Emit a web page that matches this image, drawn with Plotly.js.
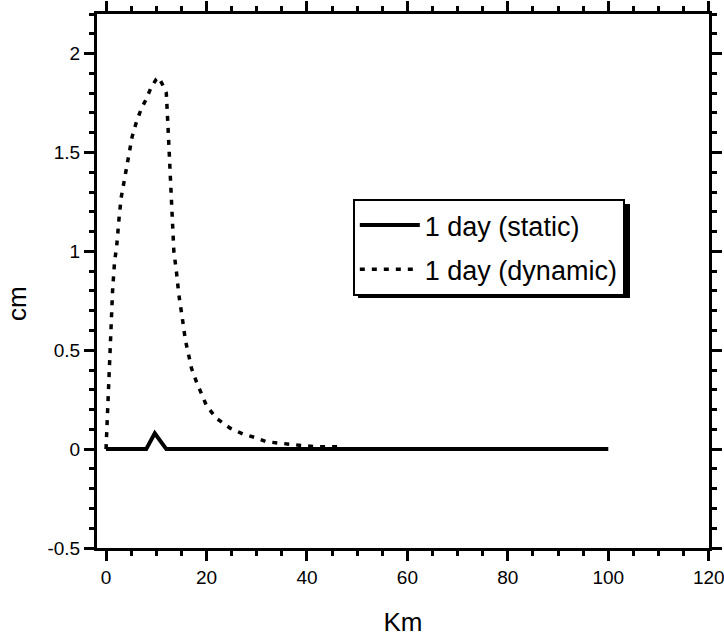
<!DOCTYPE html>
<html>
<head>
<meta charset="utf-8">
<script src="https://cdn.plot.ly/plotly-3.0.1.min.js"></script>
<style>html,body{margin:0;padding:0;background:#fff;}#chart{width:724px;height:639px;}</style>
</head>
<body>
<div id="chart"></div>
<script>
// Static deformation after 1 day (cm) vs distance (km)
const staticX = [0, 8.0, 9.7, 12.0, 100];
const staticY = [0, 0, 0.08, 0, 0];

// Dynamic deformation after 1 day
const dynamicX = [0, 0.3, 0.6, 1.0, 1.3, 1.7, 2.1, 2.6, 3.0, 3.5, 4.0, 4.5, 5.2, 6.0, 7.0, 8.0, 9.0, 10.0, 10.5, 11.5, 12.0, 12.3, 12.7, 13.1, 13.5, 14.0, 14.5, 15.2, 15.8, 16.5, 17.0, 18.0, 19.0, 20.0, 22.0, 24.7, 27.3, 29.5, 32.0, 34.5, 37.0, 39.5, 42.0, 44.5, 47.0];
const dynamicY = [0, 0.2, 0.4, 0.6, 0.8, 0.95, 1.02, 1.17, 1.27, 1.34, 1.41, 1.50, 1.58, 1.65, 1.72, 1.77, 1.83, 1.87, 1.88, 1.83, 1.80, 1.65, 1.41, 1.16, 1.0, 0.9, 0.78, 0.66, 0.55, 0.47, 0.41, 0.34, 0.28, 0.22, 0.155, 0.106, 0.076, 0.06, 0.037, 0.029, 0.024, 0.017, 0.012, 0.012, 0.012];

const seriesNames = ["1 day (static)", "1 day (dynamic)"];
const xTickVals = [0, 20, 40, 60, 80, 100, 120];
const yTickVals = [-0.5, 0, 0.5, 1, 1.5, 2];
const yTickText = ["-0.5", "0", "0.5", "1", "1.5", "2"];

const FONT = "Liberation Sans, Arial, Helvetica, sans-serif";

const traces = [
  {x: staticX, y: staticY, mode: "lines", name: seriesNames[0], legendgroup: "a",
   line: {color: "#000", width: 4}},
  {x: dynamicX, y: dynamicY, mode: "lines", name: seriesNames[1], legendgroup: "b",
   line: {color: "#000", width: 3.5, dash: "5px,7px"}}
];

const axisCommon = {
  showgrid: false, zeroline: false, showline: true, linecolor: "#000", linewidth: 3,
  mirror: "allticks", ticks: "outside", ticklen: 10, tickwidth: 3, tickcolor: "#000",
  ticklabeloverflow: "allow",
  tickfont: {family: FONT, size: 19, color: "#000"}
};

const layout = {
  width: 724, height: 639,
  margin: {l: 97, r: 15, t: 14, b: 91},
  paper_bgcolor: "#fff", plot_bgcolor: "#fff",
  showlegend: true,
  legend: {
    x: 0.418, y: (548 - 199) / 534, xanchor: "left", yanchor: "top",
    bgcolor: "#fff", bordercolor: "#000", borderwidth: 2,
    font: {family: FONT, size: 27, color: "#000"},
    traceorder: "grouped", tracegroupgap: 6, itemwidth: 60
  },
  shapes: [
    {type: "rect", xref: "paper", yref: "paper", layer: "above",
     x0: (358 - 97) / 612, x1: (630 - 97) / 612, y0: (548 - 298) / 534, y1: (548 - 204) / 534,
     fillcolor: "#000", line: {width: 0}}
  ],
  annotations: [
    {text: "cm", xref: "paper", yref: "paper", x: (17 - 97) / 612, y: (548 - 304) / 534,
     xanchor: "center", yanchor: "middle", textangle: -90, showarrow: false,
     font: {family: FONT, size: 26, color: "#000"}}
  ],
  xaxis: Object.assign({}, axisCommon, {
    range: [-1.8, 120.05], tickvals: xTickVals,
    minor: {dtick: 5, tick0: 0, ticks: "outside", ticklen: 5, tickwidth: 3, tickcolor: "#000"},
    title: {text: "Km", font: {family: FONT, size: 26, color: "#000"}, standoff: 27}
  }),
  yaxis: Object.assign({}, axisCommon, {
    range: [-0.5, 2.2], tickvals: yTickVals, ticktext: yTickText,
    minor: {dtick: 0.1, tick0: 0, ticks: "outside", ticklen: 5, tickwidth: 3, tickcolor: "#000"}
  })
};

Plotly.newPlot("chart", traces, layout, {displayModeBar: false, staticPlot: true});
</script>
</body>
</html>
